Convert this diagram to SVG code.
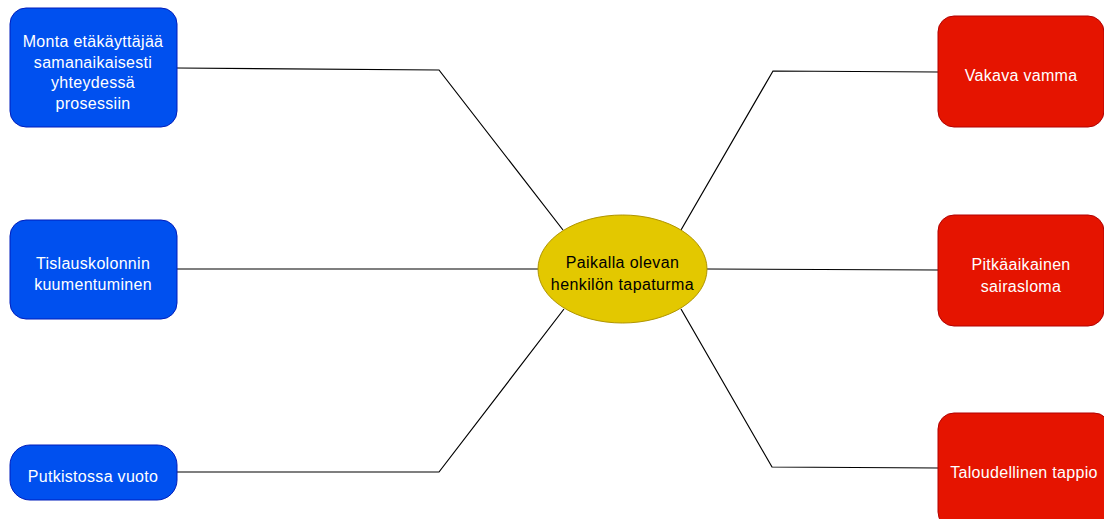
<svg xmlns="http://www.w3.org/2000/svg" width="1104" height="519" viewBox="0 0 1104 519">
<style>
.blue{fill:#0050ef;stroke:#001dbc;stroke-width:1}
.red{fill:#e51400;stroke:#b20000;stroke-width:1}
.yel{fill:#e3c800;stroke:#b09500;stroke-width:1}
.wt{font-family:"Liberation Sans",Arial,sans-serif;font-size:16px;letter-spacing:0.3px;fill:#ffffff;text-anchor:middle}
.bt{font-family:"Liberation Sans",Arial,sans-serif;font-size:16px;letter-spacing:0.4px;fill:#000000;text-anchor:middle}
.edge{fill:none;stroke:#000000;stroke-width:1.2}
</style>
<rect width="1104" height="519" fill="#ffffff"/>
<g id="connectors">
<polyline class="edge" points="177,68 439,70 563,230"/>
<polyline class="edge" points="177,269 538,269"/>
<polyline class="edge" points="177,472 439,472 564,309"/>
<polyline class="edge" points="938,72 773,71 681,230"/>
<polyline class="edge" points="938,270 707,269"/>
<polyline class="edge" points="938,468 772,467 681,309"/>
</g>
<g id="n1">
<rect class="blue" x="10" y="8" width="167" height="119" rx="16"/>
<text class="wt" x="93" y="47">Monta etäkäyttäjää</text>
<text class="wt" x="93" y="68">samanaikaisesti</text>
<text class="wt" x="93" y="88">yhteydessä</text>
<text class="wt" x="93" y="109">prosessiin</text>
</g>
<g id="n2">
<rect class="blue" x="10" y="220" width="167" height="99" rx="16"/>
<text class="wt" x="93" y="269">Tislauskolonnin</text>
<text class="wt" x="93" y="290">kuumentuminen</text>
</g>
<g id="n3">
<rect class="blue" x="10" y="445" width="167" height="55" rx="20"/>
<text class="wt" x="93" y="482">Putkistossa vuoto</text>
</g>
<g id="center">
<ellipse class="yel" cx="622.5" cy="269" rx="84.5" ry="54"/>
<text class="bt" x="622.5" y="268">Paikalla olevan</text>
<text class="bt" x="622.5" y="290">henkilön tapaturma</text>
</g>
<g id="r1">
<rect class="red" x="938" y="16" width="166" height="111" rx="16"/>
<text class="wt" x="1021" y="81">Vakava vamma</text>
</g>
<g id="r2">
<rect class="red" x="938" y="215" width="166" height="111" rx="16"/>
<text class="wt" x="1021" y="270">Pitkäaikainen</text>
<text class="wt" x="1021" y="292">sairasloma</text>
</g>
<g id="r3">
<rect class="red" x="938" y="413" width="172" height="115" rx="16"/>
<text class="wt" x="1024" y="478">Taloudellinen tappio</text>
</g>
</svg>
